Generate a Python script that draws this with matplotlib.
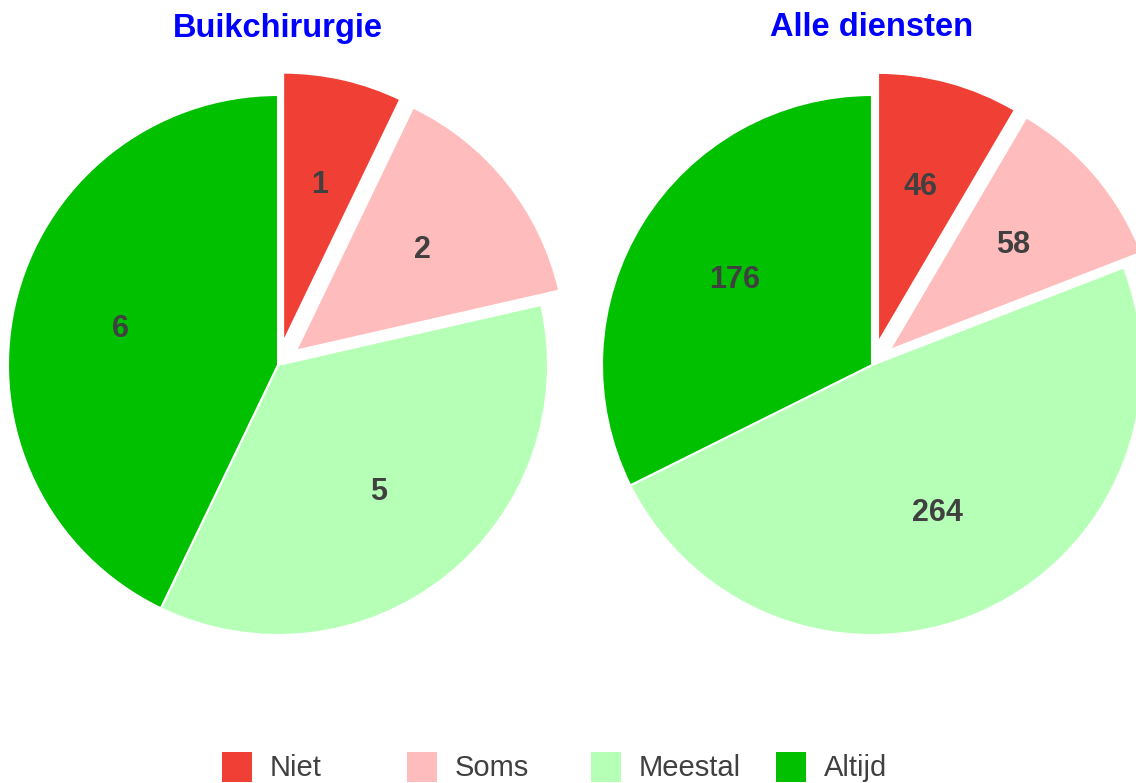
import matplotlib
matplotlib.use("Agg")
import matplotlib.pyplot as plt
from matplotlib.patches import Rectangle

plt.rcParams['font.family'] = ['Liberation Sans', 'DejaVu Sans']

categories = ["Niet", "Soms", "Meestal", "Altijd"]
colors = ["#f04035", "#ffbcbc", "#b6ffb6", "#00c000"]
titles = ["Buikchirurgie", "Alle diensten"]
values_buik = [1, 2, 5, 6]
values_alle = [46, 58, 264, 176]
explode = [0.085, 0.085, 0, 0]

W, H = 1136, 783
fig = plt.figure(figsize=(W / 100, H / 100), dpi=100)

R = 270
centers = [(278, 365), (872, 365)]
for (cx, cy), vals, title in zip(centers, [values_buik, values_alle], titles):
    ax = fig.add_axes([(cx - R) / W, (H - cy - R) / H, 2 * R / W, 2 * R / H])
    wedges, texts = ax.pie(vals, labels=[str(v) for v in vals], colors=colors,
                           startangle=90, counterclock=False, explode=explode,
                           labeldistance=0.6, radius=1,
                           wedgeprops=dict(edgecolor="white", linewidth=1.5),
                           textprops=dict(fontsize=22, fontweight="bold", color="#404040"))
    for t in texts:
        t.set_ha("center")
        t.set_va("center")
    for w in wedges:
        w.set_clip_on(False)
    ax.set_xlim(-1, 1)
    ax.set_ylim(-1, 1)
    ax.set_aspect("equal")
    ax.axis("off")
    fig.text(cx / W, 1 - 28 / H, title, ha="center", va="center",
             fontsize=23.5, fontweight="bold", color="#0000ff")

# legend
x0 = 222
step = 184.5
for i, (cat, col) in enumerate(zip(categories, colors)):
    x = x0 + i * step
    fig.patches.append(Rectangle((x / W, 1 - 782 / H), 30 / W, 30 / H,
                                 transform=fig.transFigure, facecolor=col,
                                 edgecolor="none"))
    fig.text((x + 48) / W, 1 - 768 / H, cat, ha="left", va="center",
             fontsize=21, color="#404040")

fig.savefig("out.png", dpi=100)
